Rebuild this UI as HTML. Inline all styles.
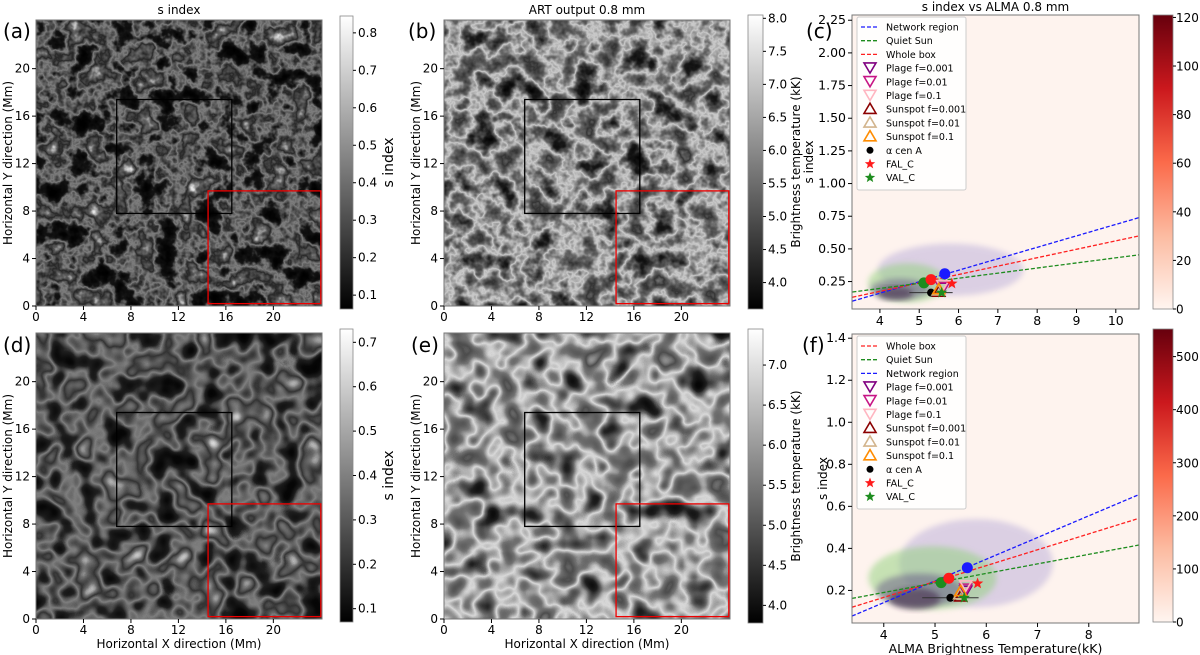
<!DOCTYPE html>
<html><head><meta charset="utf-8"><style>
body{margin:0;background:#fff;}
svg{display:block;font-family:"DejaVu Sans","Liberation Sans",sans-serif;}
</style></head><body>
<svg id="fig" width="1200" height="655" viewBox="0 0 1200 655" xmlns="http://www.w3.org/2000/svg">
<defs>
<filter id="fa" x="0" y="0" width="100%" height="100%" color-interpolation-filters="sRGB">
<feTurbulence type="fractalNoise" baseFrequency="0.045" numOctaves="4" seed="3"/>
<feColorMatrix type="matrix" values="1 0 0 0 0 1 0 0 0 0 1 0 0 0 0 0 0 0 0 1"/>
<feComponentTransfer><feFuncR type="table" tableValues="0 0 0.02 0.08 0.5 0.15 0.4 0.9 1"/><feFuncG type="table" tableValues="0 0 0.02 0.08 0.5 0.15 0.4 0.9 1"/><feFuncB type="table" tableValues="0 0 0.02 0.08 0.5 0.15 0.4 0.9 1"/></feComponentTransfer>
</filter>
<filter id="fd" x="0" y="0" width="100%" height="100%" color-interpolation-filters="sRGB">
<feTurbulence type="fractalNoise" baseFrequency="0.04" numOctaves="2" seed="3"/>
<feColorMatrix type="matrix" values="1 0 0 0 0 1 0 0 0 0 1 0 0 0 0 0 0 0 0 1"/>
<feComponentTransfer><feFuncR type="table" tableValues="0 0 0.03 0.12 0.5 0.2 0.45 0.9 1"/><feFuncG type="table" tableValues="0 0 0.03 0.12 0.5 0.2 0.45 0.9 1"/><feFuncB type="table" tableValues="0 0 0.03 0.12 0.5 0.2 0.45 0.9 1"/></feComponentTransfer>
</filter>
<filter id="fb" x="0" y="0" width="100%" height="100%" color-interpolation-filters="sRGB">
<feTurbulence type="fractalNoise" baseFrequency="0.04" numOctaves="4" seed="7"/>
<feColorMatrix type="matrix" values="1 0 0 0 0 1 0 0 0 0 1 0 0 0 0 0 0 0 0 1"/>
<feComponentTransfer><feFuncR type="table" tableValues="0 0.02 0.1 0.35 0.8 0.4 0.2 0.45 0.8"/><feFuncG type="table" tableValues="0 0.02 0.1 0.35 0.8 0.4 0.2 0.45 0.8"/><feFuncB type="table" tableValues="0 0.02 0.1 0.35 0.8 0.4 0.2 0.45 0.8"/></feComponentTransfer>
</filter>
<filter id="fe" x="0" y="0" width="100%" height="100%" color-interpolation-filters="sRGB">
<feTurbulence type="fractalNoise" baseFrequency="0.038" numOctaves="2" seed="7"/>
<feColorMatrix type="matrix" values="1 0 0 0 0 1 0 0 0 0 1 0 0 0 0 0 0 0 0 1"/>
<feComponentTransfer><feFuncR type="table" tableValues="0 0.03 0.12 0.4 0.85 0.45 0.3 0.55 0.85"/><feFuncG type="table" tableValues="0 0.03 0.12 0.4 0.85 0.45 0.3 0.55 0.85"/><feFuncB type="table" tableValues="0 0.03 0.12 0.4 0.85 0.45 0.3 0.55 0.85"/></feComponentTransfer>
</filter>
<linearGradient id="gray" x1="0" y1="1" x2="0" y2="0"><stop offset="0" stop-color="#000"/><stop offset="1" stop-color="#fff"/></linearGradient>
<linearGradient id="reds" x1="0" y1="1" x2="0" y2="0">
<stop offset="0" stop-color="#fff5f0"/><stop offset="0.25" stop-color="#fcbba1"/><stop offset="0.5" stop-color="#fb6a4a"/><stop offset="0.75" stop-color="#cb181d"/><stop offset="1" stop-color="#67000d"/></linearGradient>
<filter id="blur" x="-20%" y="-20%" width="140%" height="140%"><feGaussianBlur stdDeviation="3"/></filter>
</defs>
</svg>
<script>
// ---------- data ----------
const mapTicks = [0, 4, 8, 12, 16, 20];
const blackBox = [6.8, 7.8, 16.5, 17.4];
const redBox = [14.5, 0.2, 24, 9.7];
const cbTicksA = [0.1, 0.2, 0.3, 0.4, 0.5, 0.6, 0.7, 0.8];
const cbTicksB = [4.0, 4.5, 5.0, 5.5, 6.0, 6.5, 7.0, 7.5, 8.0];
const cbTicksD = [0.1, 0.2, 0.3, 0.4, 0.5, 0.6, 0.7];
const cbTicksE = [4.0, 4.5, 5.0, 5.5, 6.0, 6.5, 7.0];
const xTicksC = [4, 5, 6, 7, 8, 9, 10];
const yTicksC = [0.25, 0.5, 0.75, 1.0, 1.25, 1.5, 1.75, 2.0, 2.25];
const xTicksF = [4, 5, 6, 7, 8];
const yTicksF = [0.2, 0.4, 0.6, 0.8, 1.0, 1.2, 1.4];
const cbTicksC = [0, 20, 40, 60, 80, 100, 120];
const cbTicksF = [0, 100, 200, 300, 400, 500];
// fit lines: [x0, y0, x1, y1]
const netLineC = [3.3, 0.10, 10.6, 0.74];
const wholeLineC = [3.3, 0.13, 10.6, 0.60];
const quietLineC = [3.3, 0.17, 10.6, 0.455];
const netLineF = [3.38, 0.078, 8.98, 0.656];
const wholeLineF = [3.38, 0.12, 8.98, 0.543];
const quietLineF = [3.38, 0.162, 8.98, 0.416];
// markers [x, y]
const netPtC = [5.65, 0.31], wholePtC = [5.3, 0.265], quietPtC = [5.12, 0.24];
const alphaCenC = [5.3, 0.165], falC = [5.83, 0.235], valC = [5.57, 0.165];
const plageC = [[5.6, 0.205], [5.6, 0.21], [5.6, 0.225]];
const spotC = [[5.5, 0.17], [5.48, 0.18], [5.5, 0.19]];
const netPtF = [5.63, 0.308], wholePtF = [5.27, 0.258], quietPtF = [5.12, 0.237];
const alphaCenF = [5.3, 0.165], falF = [5.83, 0.233], valF = [5.57, 0.165];
const plageF = [[5.6, 0.2], [5.6, 0.21], [5.6, 0.225]];
const spotF = [[5.5, 0.17], [5.48, 0.18], [5.5, 0.195]];
const errAlpha = [4.75, 5.85];
// density contour blobs: [cx, cy, rx, ry, color, opacity]
const blobsC = [[5.8, 0.34, 1.85, 0.2, '#9b8fd0', 0.35], [4.7, 0.24, 1.0, 0.15, '#8fd07a', 0.5], [4.5, 0.19, 0.75, 0.08, '#5a4a80', 0.45], [4.4, 0.16, 0.45, 0.05, '#3a1f45', 0.55]];
const blobsF = [[5.8, 0.33, 1.5, 0.21, '#9b8fd0', 0.35], [4.95, 0.26, 1.25, 0.15, '#8fd07a', 0.5], [4.7, 0.2, 0.85, 0.08, '#5a4a80', 0.45], [4.6, 0.16, 0.5, 0.05, '#3a1f45', 0.55]];

// ---------- helpers ----------
const NS = 'http://www.w3.org/2000/svg';
const fig = document.getElementById('fig');
function el(tag, attrs, parent, text) {
  const e = document.createElementNS(NS, tag);
  for (const k in attrs) e.setAttribute(k, attrs[k]);
  if (text !== undefined) e.textContent = text;
  (parent || fig).appendChild(e);
  return e;
}
function lin(d0, d1, p0, p1) { return v => p0 + (v - d0) / (d1 - d0) * (p1 - p0); }

// ---------- map panels ----------
function mapPanel(key, L, T, S, filt, cb, showXLabel, title) {
  const g = el('g', {});
  
  
  const img = el('rect', {x: L, y: T, width: S, height: S, fill: '#000', filter: 'url(#' + filt + ')'}, g);
  
  
  const sx = lin(0, 24.1, L, L + S), sy = lin(0, 24.1, T + S, T);
  const bb = el('rect', {x: sx(blackBox[0]), y: sy(blackBox[3]), width: sx(blackBox[2]) - sx(blackBox[0]), height: sy(blackBox[1]) - sy(blackBox[3]), fill: 'none', stroke: '#000', 'stroke-width': 1.3}, g);
  
  
  const rb = el('rect', {x: sx(redBox[0]), y: sy(redBox[3]), width: sx(redBox[2]) - sx(redBox[0]), height: sy(redBox[1]) - sy(redBox[3]), fill: 'none', stroke: '#e00', 'stroke-width': 1.3}, g);
  
  
  el('rect', {x: L, y: T, width: S, height: S, fill: 'none', stroke: '#777', 'stroke-width': 1}, g);
  mapTicks.forEach(t => {
    el('line', {x1: sx(t), x2: sx(t), y1: T + S, y2: T + S + 4, stroke: '#000'}, g);
    const tx = el('text', {x: sx(t), y: T + S + 15, 'font-size': 12, 'text-anchor': 'middle'}, g, t);
    
    
    el('line', {x1: L - 4, x2: L, y1: sy(t), y2: sy(t), stroke: '#000'}, g);
    const ty = el('text', {x: L - 6, y: sy(t) + 4, 'font-size': 12, 'text-anchor': 'end'}, g, t);
    
    
  });
  const yl = el('text', {x: 0, y: 0, 'font-size': 12, 'text-anchor': 'middle', transform: `translate(${L - 24},${T + S / 2}) rotate(-90)`}, g, 'Horizontal Y direction (Mm)');
  
  
  if (showXLabel) {
    const xl = el('text', {x: L + S / 2, y: T + S + 29, 'font-size': 12, 'text-anchor': 'middle'}, g, 'Horizontal X direction (Mm)');
    
    
  }
  if (title) {
    const tt = el('text', {x: L + S / 2, y: T - 6, 'font-size': 12, 'text-anchor': 'middle'}, g, title);
    
    
  }
  // colorbar
  const cg = el('g', {}, g);
  
  
  el('rect', {x: cb.x, y: cb.t, width: cb.w, height: cb.b - cb.t, fill: 'url(#gray)', stroke: '#888', 'stroke-width': 0.8}, cg);
  const cs = lin(cb.min, cb.max, cb.b, cb.t);
  cb.ticks.forEach(t => {
    el('line', {x1: cb.x + cb.w, x2: cb.x + cb.w + 3, y1: cs(t), y2: cs(t), stroke: '#000'}, cg);
    const lb = el('text', {x: cb.x + cb.w + 5, y: cs(t) + 4, 'font-size': 12}, cg, t.toFixed(1));
    
    
  });
  const cl = el('text', {x: 0, y: 0, 'font-size': cb.lsize, 'text-anchor': 'middle', transform: `translate(${cb.lx},${(cb.t + cb.b) / 2}) rotate(-90)`}, cg, cb.label);
  
  
}
mapPanel('a', 36, 20, 286, 'fa', {x: 340, w: 13, t: 16, b: 309, min: 0.063, max: 0.845, ticks: cbTicksA, label: 's index', lx: 393, lsize: 14}, false, 's index');
mapPanel('b', 444, 20, 286, 'fb', {x: 748, w: 15, t: 15, b: 309, min: 3.6, max: 8.05, ticks: cbTicksB, label: 'Brightness temperature (kK)', lx: 800, lsize: 12}, false, 'ART output 0.8 mm');
mapPanel('d', 36, 333, 286, 'fd', {x: 340, w: 13, t: 329, b: 622, min: 0.07, max: 0.73, ticks: cbTicksD, label: 's index', lx: 393, lsize: 14}, true, null);
mapPanel('e', 444, 333, 286, 'fe', {x: 748, w: 15, t: 329, b: 623, min: 3.78, max: 7.45, ticks: cbTicksE, label: 'Brightness temperature (kK)', lx: 800, lsize: 12}, true, null);

// ---------- scatter panels ----------
function tri(g, x, y, down, color) {
  const s = 6;
  const pts = down ? `${x - s},${y - s * 0.7} ${x + s},${y - s * 0.7} ${x},${y + s}` : `${x - s},${y + s * 0.7} ${x + s},${y + s * 0.7} ${x},${y - s}`;
  return el('polygon', {points: pts, fill: 'none', stroke: color, 'stroke-width': 1.6}, g);
}
function star(g, x, y, color, r) {
  let p = [];
  for (let i = 0; i < 10; i++) { const a = -Math.PI / 2 + i * Math.PI / 5; const rr = i % 2 ? r * 0.42 : r; p.push((x + rr * Math.cos(a)).toFixed(1) + ',' + (y + rr * Math.sin(a)).toFixed(1)); }
  return el('polygon', {points: p.join(' '), fill: color}, g);
}
function scatterPanel(key, ax, cfg) {
  const g = el('g', {});
  
  
  const sx = lin(cfg.xmin, cfg.xmax, ax.L, ax.R), sy = lin(cfg.ymin, cfg.ymax, ax.B, ax.T);
  const clip = el('clipPath', {id: 'clip' + key}, g);
  el('rect', {x: ax.L, y: ax.T, width: ax.R - ax.L, height: ax.B - ax.T}, clip);
  const bg = el('rect', {x: ax.L, y: ax.T, width: ax.R - ax.L, height: ax.B - ax.T, fill: '#fef3ee'}, g);
  
  
  const pg = el('g', {'clip-path': 'url(#clip' + key + ')'}, g);
  cfg.blobs.forEach(b => {
    const e = el('ellipse', {cx: sx(b[0]), cy: sy(b[1]), rx: sx(b[0] + b[2]) - sx(b[0]), ry: sy(b[1]) - sy(b[1] + b[3]), fill: b[4], opacity: b[5], filter: 'url(#blur)'}, pg);
    
    
  });
  [[cfg.net, '#1a1aff', 'network-fit-line'], [cfg.whole, '#ff2020', 'whole-box-fit-line'], [cfg.quiet, '#1e8c1e', 'quiet-sun-fit-line']].forEach(([l, c, n]) => {
    const ln = el('line', {x1: sx(l[0]), y1: sy(l[1]), x2: sx(l[2]), y2: sy(l[3]), stroke: c, 'stroke-width': 1.3, 'stroke-dasharray': '4,2'}, pg);
    
    
  });
  const eb = el('line', {x1: sx(errAlpha[0]), x2: sx(errAlpha[1]), y1: sy(cfg.acen[1]), y2: sy(cfg.acen[1]), stroke: '#333', 'stroke-width': 1}, pg);
  
  
  [[cfg.quietPt, '#1e8c1e'], [cfg.wholePt, '#ff1a1a'], [cfg.netPt, '#1a1aff']].forEach(([p, c]) => {
    const ci = el('circle', {cx: sx(p[0]), cy: sy(p[1]), r: 5.5, fill: c}, pg);
    
    
  });
  const ac = el('circle', {cx: sx(cfg.acen[0]), cy: sy(cfg.acen[1]), r: 4, fill: '#000'}, pg);
  
  
  ['#800080', '#c71585', '#ffb6c1'].forEach((c, i) => {
    const t = tri(pg, sx(cfg.plage[i][0]), sy(cfg.plage[i][1]), true, c);
    
    
  });
  ['#8b0000', '#d2b48c', '#ff8c00'].forEach((c, i) => {
    const t = tri(pg, sx(cfg.spot[i][0]), sy(cfg.spot[i][1]), false, c);
    
    
  });
  const s1 = star(pg, sx(cfg.fal[0]), sy(cfg.fal[1]), '#ff1a1a', 6);
  
  
  const s2 = star(pg, sx(cfg.val[0]), sy(cfg.val[1]), '#1e8c1e', 6);
  
  
  el('rect', {x: ax.L, y: ax.T, width: ax.R - ax.L, height: ax.B - ax.T, fill: 'none', stroke: '#777'}, g);
  cfg.xt.forEach(t => {
    el('line', {x1: sx(t), x2: sx(t), y1: ax.B, y2: ax.B + 4, stroke: '#000'}, g);
    const tx = el('text', {x: sx(t), y: ax.B + 16, 'font-size': 12.5, 'text-anchor': 'middle'}, g, t);
    
    
  });
  cfg.yt.forEach(t => {
    el('line', {x1: ax.L - 4, x2: ax.L, y1: sy(t), y2: sy(t), stroke: '#000'}, g);
    const ty = el('text', {x: ax.L - 6, y: sy(t) + 4, 'font-size': 12.5, 'text-anchor': 'end'}, g, t.toFixed(cfg.yd));
    
    
  });
  const yl = el('text', {x: 0, y: 0, 'font-size': 12, 'text-anchor': 'middle', transform: `translate(${cfg.ylx},${(ax.T + ax.B) / 2}) rotate(-90)`}, g, 's index');
  
  
  if (cfg.xlabel) {
    const xl = el('text', {x: (ax.L + ax.R) / 2, y: ax.B + 30, 'font-size': 12.5, 'text-anchor': 'middle'}, g, cfg.xlabel);
    
    
  }
  if (cfg.title) {
    const tt = el('text', {x: (ax.L + ax.R) / 2, y: ax.T - 4, 'font-size': 12, 'text-anchor': 'middle'}, g, cfg.title);
    
    
  }
  // legend
  const lg = el('g', {}, g);
  
  
  const lx = ax.L + 5, ly = ax.T + 2;
  el('rect', {x: lx, y: ly, width: 109, height: 173, rx: 2, fill: '#fff', 'fill-opacity': 0.85, stroke: '#ccc'}, lg);
  cfg.legend.forEach((it, i) => {
    const y = ly + 10 + i * 13.7;
    const cx = lx + 13;
    let m;
    if (it[1] === 'line') m = el('line', {x1: cx - 9, x2: cx + 9, y1: y, y2: y, stroke: it[2], 'stroke-width': 1.3, 'stroke-dasharray': '4,2'}, lg);
    else if (it[1] === 'down') m = tri(lg, cx, y - 1, true, it[2]);
    else if (it[1] === 'up') m = tri(lg, cx, y, false, it[2]);
    else if (it[1] === 'dot') m = el('circle', {cx: cx, cy: y, r: 3.5, fill: it[2]}, lg);
    else m = star(lg, cx, y, it[2], 5.5);
    
    
    const t = el('text', {x: lx + 29, y: y + 3.5, 'font-size': 9.5}, lg, it[0]);
    
    
  });
  // colorbar
  const cg = el('g', {}, g);
  
  
  const cb = cfg.cb;
  el('rect', {x: cb.x, y: cb.t, width: cb.w, height: cb.b - cb.t, fill: 'url(#reds)', stroke: '#888', 'stroke-width': 0.8}, cg);
  const cs = lin(0, cb.max, cb.b, cb.t);
  cb.ticks.forEach(t => {
    el('line', {x1: cb.x + cb.w, x2: cb.x + cb.w + 3, y1: cs(t), y2: cs(t), stroke: '#000'}, cg);
    const lb = el('text', {x: cb.x + cb.w + 3, y: cs(t) + 4.5, 'font-size': 12}, cg, t);
    
    
  });
}
const legC = [['Network region', 'line', '#1a1aff'], ['Quiet Sun', 'line', '#1e8c1e'], ['Whole box', 'line', '#ff2020'], ['Plage f=0.001', 'down', '#800080'], ['Plage f=0.01', 'down', '#c71585'], ['Plage f=0.1', 'down', '#ffb6c1'], ['Sunspot f=0.001', 'up', '#8b0000'], ['Sunspot f=0.01', 'up', '#d2b48c'], ['Sunspot f=0.1', 'up', '#ff8c00'], ['\u03b1 cen A', 'dot', '#000'], ['FAL_C', 'star', '#ff1a1a'], ['VAL_C', 'star', '#1e8c1e']];
const legF = [['Whole box', 'line', '#ff2020'], ['Quiet Sun', 'line', '#1e8c1e'], ['Network region', 'line', '#1a1aff']].concat(legC.slice(3));
scatterPanel('c', {L: 852, R: 1139, T: 15, B: 309}, {xmin: 3.29, xmax: 10.59, ymin: 0.04, ymax: 2.29, xt: xTicksC, yt: yTicksC, yd: 2, ylx: 813, title: 's index vs ALMA 0.8 mm', xlabel: null, net: netLineC, whole: wholeLineC, quiet: quietLineC, netPt: netPtC, wholePt: wholePtC, quietPt: quietPtC, acen: alphaCenC, fal: falC, val: valC, plage: plageC, spot: spotC, blobs: blobsC, legend: legC, cb: {x: 1153, w: 20, t: 15, b: 309, max: 121, ticks: cbTicksC}});
scatterPanel('f', {L: 852, R: 1139, T: 334, B: 623}, {xmin: 3.38, xmax: 8.98, ymin: 0.045, ymax: 1.42, xt: xTicksF, yt: yTicksF, yd: 1, ylx: 827, title: null, xlabel: 'ALMA Brightness Temperature(kK)', net: netLineF, whole: wholeLineF, quiet: quietLineF, netPt: netPtF, wholePt: wholePtF, quietPt: quietPtF, acen: alphaCenF, fal: falF, val: valF, plage: plageF, spot: spotF, blobs: blobsF, legend: legF, cb: {x: 1153, w: 20, t: 329, b: 622, max: 552, ticks: cbTicksF}});

// panel labels
[['(a)', 3, 38], ['(b)', 408, 38], ['(c)', 806, 38], ['(d)', 3, 352], ['(e)', 411, 352], ['(f)', 802, 352]].forEach(([t, x, y]) => {
  const l = el('text', {x: x, y: y, 'font-size': 20}, fig, t);
  
  
});
</script>
</body></html>
